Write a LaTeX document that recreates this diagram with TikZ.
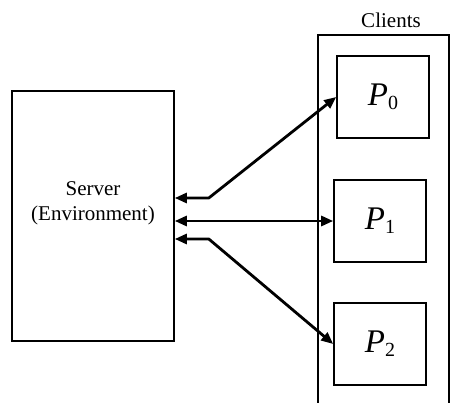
\documentclass[tikz,border=0pt]{standalone}
\usepackage{fontspec}
\setmainfont{Liberation Serif}
\usetikzlibrary{positioning,arrows.meta}
\newcommand{\proc}[1]{{\fontsize{16.5}{18}\selectfont\itshape P}\raisebox{-0.45ex}{\fontsize{10}{12}\selectfont #1}}

\begin{document}
\begin{tikzpicture}[
  x=0.5pt, y=-0.5pt,
  srvbox/.style={draw, line width=0.8pt, minimum width=81pt, minimum height=125pt},
  pbox/.style={draw, line width=0.8pt, minimum width=46pt, minimum height=41pt, inner sep=0pt},
  lbl/.style={font=\fontsize{10.5}{12.5}\selectfont, align=center},
  link/.style={{Triangle[length=6pt,width=5pt]}-{Triangle[length=6pt,width=5pt]}, line width=1.4pt, line join=round}
]
  \useasboundingbox (0,0) rectangle (452,403);
  \clip (0,0) rectangle (452,403);

  % server side
  \node[srvbox] (server) at (93,216) {};
  \node[lbl] (srvtext) at (93,203) {Server\\(Environment)};

  % client container, open past the lower edge
  \draw[line width=0.8pt] (318,420) -- (318,35) -- (449,35) -- (449,420);
  \node[lbl] (clients) at (391,20) {Clients};

  \node[pbox] (p0) at (383,97)  {\proc{0}};
  \node[pbox] (p1) at (380,221) {\proc{1}};
  \node[pbox] (p2) at (380,344) {\proc{2}};

  % message links
  \draw[link] ([yshift=9pt]server.east) -- ++(34,0) -- (p0.west);
  \draw[link] (server.east |- p1.west) -- (p1.west);
  \draw[link] ([yshift=-11.5pt]server.east) -- ++(34,0) -- (p2.west);
\end{tikzpicture}
\end{document}
